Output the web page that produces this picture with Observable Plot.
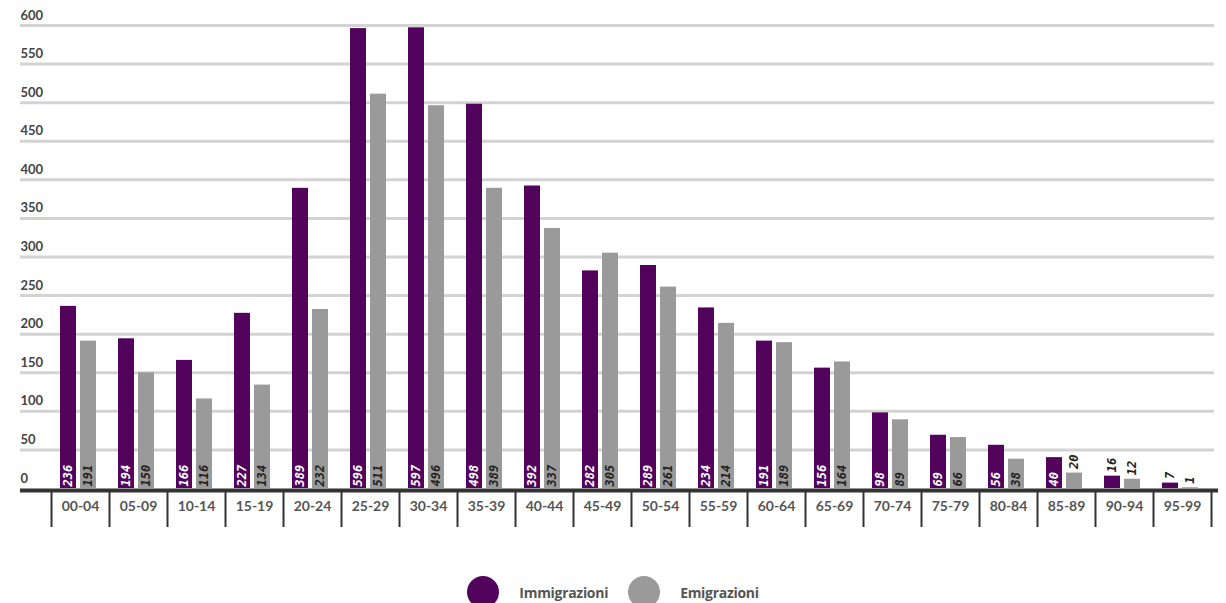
<!DOCTYPE html>
<html>
<head>
<meta charset="utf-8">
<script src="https://cdn.jsdelivr.net/npm/d3@7"></script>
<script src="https://cdn.jsdelivr.net/npm/@observablehq/plot@0.6"></script>
<style>
  html, body { margin: 0; padding: 0; background: #fff; }
  #chart { width: 1226px; height: 603px; overflow: hidden; }
  .legend { display: flex; justify-content: center; align-items: center; height: 48px; padding-top: 16px; box-sizing: border-box; font-family: "Open Sans", Lato, sans-serif; font-weight: bold; font-size: 14px; color: #555; letter-spacing: -0.3px; }
  .legend .item { display: flex; align-items: center; margin: 0 10px; }
  .legend .sw { width: 32px; height: 32px; border-radius: 50%; margin-right: 20px; flex: none; }
</style>
</head>
<body>
<div id="chart"></div>
<script>
const ageGroups = ["00-04","05-09","10-14","15-19","20-24","25-29","30-34","35-39","40-44","45-49","50-54","55-59","60-64","65-69","70-74","75-79","80-84","85-89","90-94","95-99"];
const immigrazioni = [236,194,166,227,389,596,597,498,392,282,289,234,191,156,98,69,56,40,16,7];
const emigrazioni = [191,150,116,134,232,511,496,389,337,305,261,214,189,164,89,66,38,20,12,1];
const yTicks = [0,50,100,150,200,250,300,350,400,450,500,550,600];
const seriesNames = ["Immigrazioni","Emigrazioni"];
const seriesColors = ["#52045c","#9a9a9a"];

const imm = ageGroups.map((g, i) => ({age: g, value: immigrazioni[i]}));
const emi = ageGroups.map((g, i) => ({age: g, value: emigrazioni[i]}));
const threshold = 25;
const font = "Lato, 'Open Sans', sans-serif";
const labelFont = "'DejaVu Sans Mono', monospace";

const chart = Plot.plot({
  width: 1226,
  height: 560,
  marginTop: 25,
  marginBottom: 72,
  marginLeft: 51,
  marginRight: 15,
  style: {fontFamily: font, background: "#fff"},
  x: {domain: ageGroups, padding: 0, axis: null},
  y: {domain: [0, 600], axis: null},
  marks: [
    Plot.ruleY(yTicks.filter(d => d > 0), {stroke: "#d3d3d3", strokeWidth: 3, insetLeft: -31, insetRight: -3}),
    Plot.text(yTicks, {y: d => d, text: d => String(d), frameAnchor: "left", dx: -31, dy: -6, textAnchor: "start", lineAnchor: "bottom", fontSize: 13, fontWeight: "bold", fill: "#444"}),
    Plot.barY(imm, {x: "age", y: "value", fill: seriesColors[0], insetLeft: 9, insetRight: 33}),
    Plot.barY(emi, {x: "age", y: "value", fill: seriesColors[1], insetLeft: 29, insetRight: 13}),
    Plot.text(imm.filter(d => d.value >= threshold), {x: "age", y: 0, text: d => String(d.value), rotate: -90, textAnchor: "start", lineAnchor: "middle", dx: -12, dy: -2, fill: "#fff", fontSize: 12, fontWeight: "bold", fontStyle: "italic", fontFamily: labelFont}),
    Plot.text(emi.filter(d => d.value >= threshold), {x: "age", y: 0, text: d => String(d.value), rotate: -90, textAnchor: "start", lineAnchor: "middle", dx: 8, dy: -2, fill: "#222", fontSize: 12, fontWeight: "bold", fontStyle: "italic", fontFamily: labelFont}),
    Plot.text(imm.filter(d => d.value < threshold), {x: "age", y: "value", text: d => String(d.value), rotate: -90, textAnchor: "start", lineAnchor: "middle", dx: -12, dy: -4, fill: "#222", fontSize: 12, fontWeight: "bold", fontStyle: "italic", fontFamily: labelFont}),
    Plot.text(emi.filter(d => d.value < threshold), {x: "age", y: "value", text: d => String(d.value), rotate: -90, textAnchor: "start", lineAnchor: "middle", dx: 8, dy: -4, fill: "#222", fontSize: 12, fontWeight: "bold", fontStyle: "italic", fontFamily: labelFont}),
    Plot.ruleY([0], {stroke: "#333", strokeWidth: 4, dy: 2, insetLeft: -31, insetRight: -7}),
    Plot.axisX({anchor: "bottom", tickSize: 35, tickFormat: null, label: null, dx: -29, dy: 4, stroke: "#333", strokeWidth: 2}),
    Plot.axisX(ageGroups.slice(-1), {anchor: "bottom", tickSize: 35, tickFormat: null, label: null, dx: 29, dy: 4, stroke: "#333", strokeWidth: 2}),
    Plot.axisX({anchor: "bottom", tickSize: 0, tickPadding: 13, label: null, fontSize: 14, fontWeight: "bold", fill: "#555"})
  ]
});

const container = document.getElementById("chart");
container.appendChild(chart);

const legend = document.createElement("div");
legend.className = "legend";
seriesNames.forEach((name, i) => {
  const item = document.createElement("div");
  item.className = "item";
  const sw = document.createElement("span");
  sw.className = "sw";
  sw.style.background = seriesColors[i];
  const label = document.createElement("span");
  label.textContent = name;
  item.appendChild(sw);
  item.appendChild(label);
  legend.appendChild(item);
});
container.appendChild(legend);
</script>
</body>
</html>
